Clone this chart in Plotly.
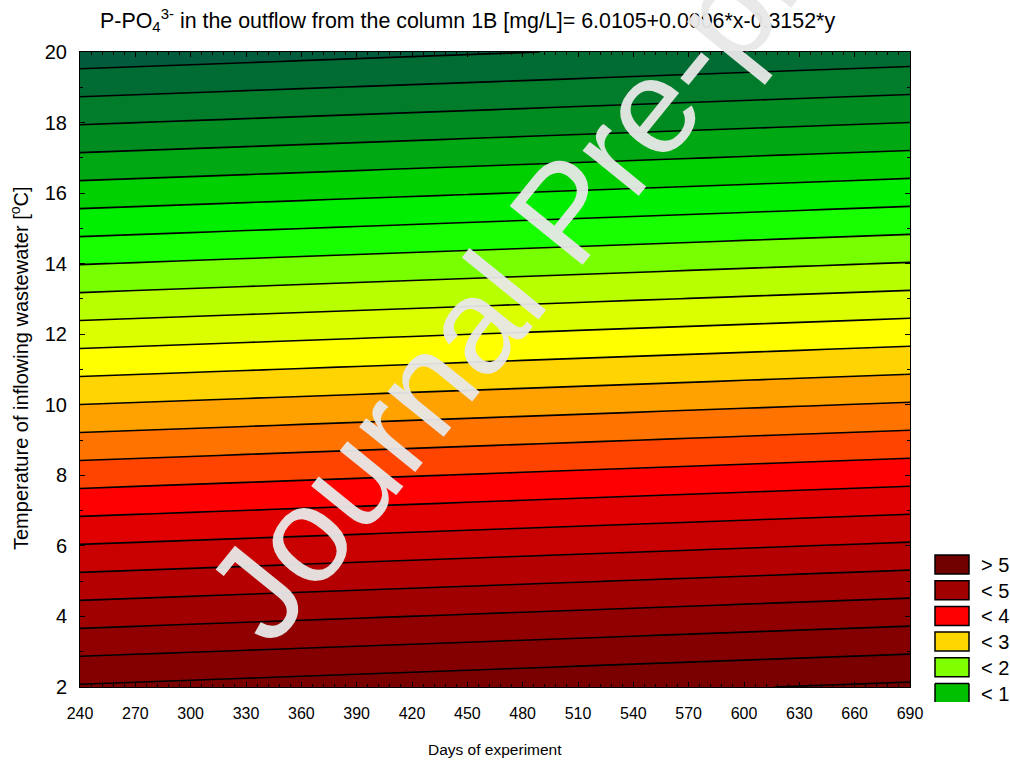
import plotly.graph_objects as go

# ---- data ----
days = [240, 270, 300, 330, 360, 390, 420, 450, 480, 510, 540, 570, 600, 630, 660, 690]
temps = [2, 3, 4, 5, 6, 7, 8, 9, 10, 11, 12, 13, 14, 15, 16, 17, 18, 19, 20]
intercept = 6.0105
coef_day = 0.0006
coef_temp = -0.3152

z = [[intercept + coef_day * d + coef_temp * t for d in days] for t in temps]

level_start, level_end, level_step = 0.0, 5.75, 0.25
band_colors = [
    "#005c3c", "#006c33", "#007c2a", "#008c20", "#00a814", "#00d000", "#00ee00",
    "#18ff00", "#78ff00", "#b8ff00", "#dcff00", "#ffff00", "#ffd400", "#ffa200",
    "#ff7400", "#ff4400", "#ff0000", "#e00000", "#c80000", "#b40000", "#a00000",
    "#900000", "#840000", "#7a0000", "#700000",
]
legend_labels = ["&gt; 5", "&lt; 5", "&lt; 4", "&lt; 3", "&lt; 2", "&lt; 1"]
legend_colors = ["#700000", "#a00000", "#ff0000", "#ffd700", "#80ff00", "#00c000"]

ARIAL = "Arial, Liberation Sans, sans-serif"

W, H = 1010, 762
L, R, T, B = 80, 100, 52, 75
PW, PH = W - L - R, H - T - B


def px(xp):
    return (xp - L) / PW


def py(yp):
    return (H - B - yp) / PH


n = len(band_colors) - 1
colorscale = [[i / n, c] for i, c in enumerate(band_colors)]

fig = go.Figure()
fig.add_trace(go.Contour(
    x=days, y=temps, z=z,
    autocontour=False,
    contours=dict(start=level_start, end=level_end, size=level_step,
                  coloring="fill", showlines=True),
    line=dict(color="black", width=1.6),
    colorscale=colorscale,
    showscale=False,
    hoverinfo="skip",
))

shapes = []
annotations = []

# title (first, so the watermark is drawn over it)
annotations.append(dict(
    text="P-PO<sub>4</sub><sup>3-</sup> in the outflow from the column 1B [mg/L]= 6.0105+0.0006*x-0.3152*y",
    x=px(98), y=py(20), xref="paper", yref="paper", xanchor="left", yanchor="middle",
    showarrow=False, font=dict(family=ARIAL, size=21.4, color="black"),
))
annotations.append(dict(
    text="Days of experiment", x=px(495), y=py(749), xref="paper", yref="paper",
    xanchor="center", yanchor="middle", showarrow=False,
    font=dict(family=ARIAL, size=15.5, color="black"),
))
annotations.append(dict(
    text="Temperature of inflowing wastewater [<sup>o</sup>C]", x=px(19), y=py(368),
    xref="paper", yref="paper", xanchor="center", yanchor="middle", textangle=-90,
    showarrow=False, font=dict(family=ARIAL, size=20, color="black"),
))

# legend boxes
for i, (lab, col) in enumerate(zip(legend_labels, legend_colors)):
    y0 = 555 + i * 25.7
    y1 = y0 + 19
    last = i == len(legend_labels) - 1
    if last:
        y1 = 702
    shapes.append(dict(type="rect", xref="paper", yref="paper",
                       x0=px(935), x1=px(969), y0=py(y1), y1=py(y0),
                       fillcolor=col, line=dict(width=0)))
    if last:
        for (xa, ya, xb, yb) in [(935, y1, 935, y0), (935, y0, 969, y0), (969, y0, 969, y1)]:
            shapes.append(dict(type="line", xref="paper", yref="paper",
                               x0=px(xa), y0=py(ya), x1=px(xb), y1=py(yb),
                               line=dict(color="black", width=1.5)))
    else:
        shapes.append(dict(type="rect", xref="paper", yref="paper",
                           x0=px(935), x1=px(969), y0=py(y1), y1=py(y0),
                           line=dict(color="black", width=1.5)))
    annotations.append(dict(
        text=lab, x=px(979), y=py(y0 + 10), xref="paper", yref="paper",
        xanchor="left", yanchor="middle", showarrow=False,
        font=dict(family=ARIAL, size=20, color="black"),
    ))

# watermark
annotations.append(dict(
    text="Journal Pre-proof", x=px(565), y=py(212), xref="paper", yref="paper",
    xanchor="center", yanchor="middle", textangle=-51, showarrow=False,
    font=dict(family=ARIAL, size=136, color="rgba(232,232,232,0.95)"),
))

fig.update_layout(
    width=W, height=H,
    margin=dict(l=L, r=R, t=T, b=B, pad=0),
    paper_bgcolor="white", plot_bgcolor="white",
    showlegend=False,
    shapes=shapes, annotations=annotations,
    xaxis=dict(range=[240, 690], tick0=240, dtick=30, showgrid=False, zeroline=False,
               showline=True, linecolor="black", linewidth=1, mirror="allticks",
               ticks="inside", ticklen=5, tickcolor="black",
               minor=dict(dtick=6, tick0=240, ticks="inside", ticklen=3, tickcolor="black"),
               ticklabelstandoff=12,
               tickfont=dict(family=ARIAL, size=16, color="black")),
    yaxis=dict(range=[2, 20], tick0=2, dtick=2, showgrid=False, zeroline=False,
               showline=True, linecolor="black", linewidth=1, mirror="allticks",
               ticks="inside", ticklen=5, tickcolor="black",
               minor=dict(dtick=1, ticks="inside", ticklen=3, tickcolor="black"),
               ticklabelstandoff=8,
               tickfont=dict(family=ARIAL, size=20, color="black")),
)

fig.write_html("out.html", config={"displayModeBar": False},
               post_script="document.body.style.margin='0';")
